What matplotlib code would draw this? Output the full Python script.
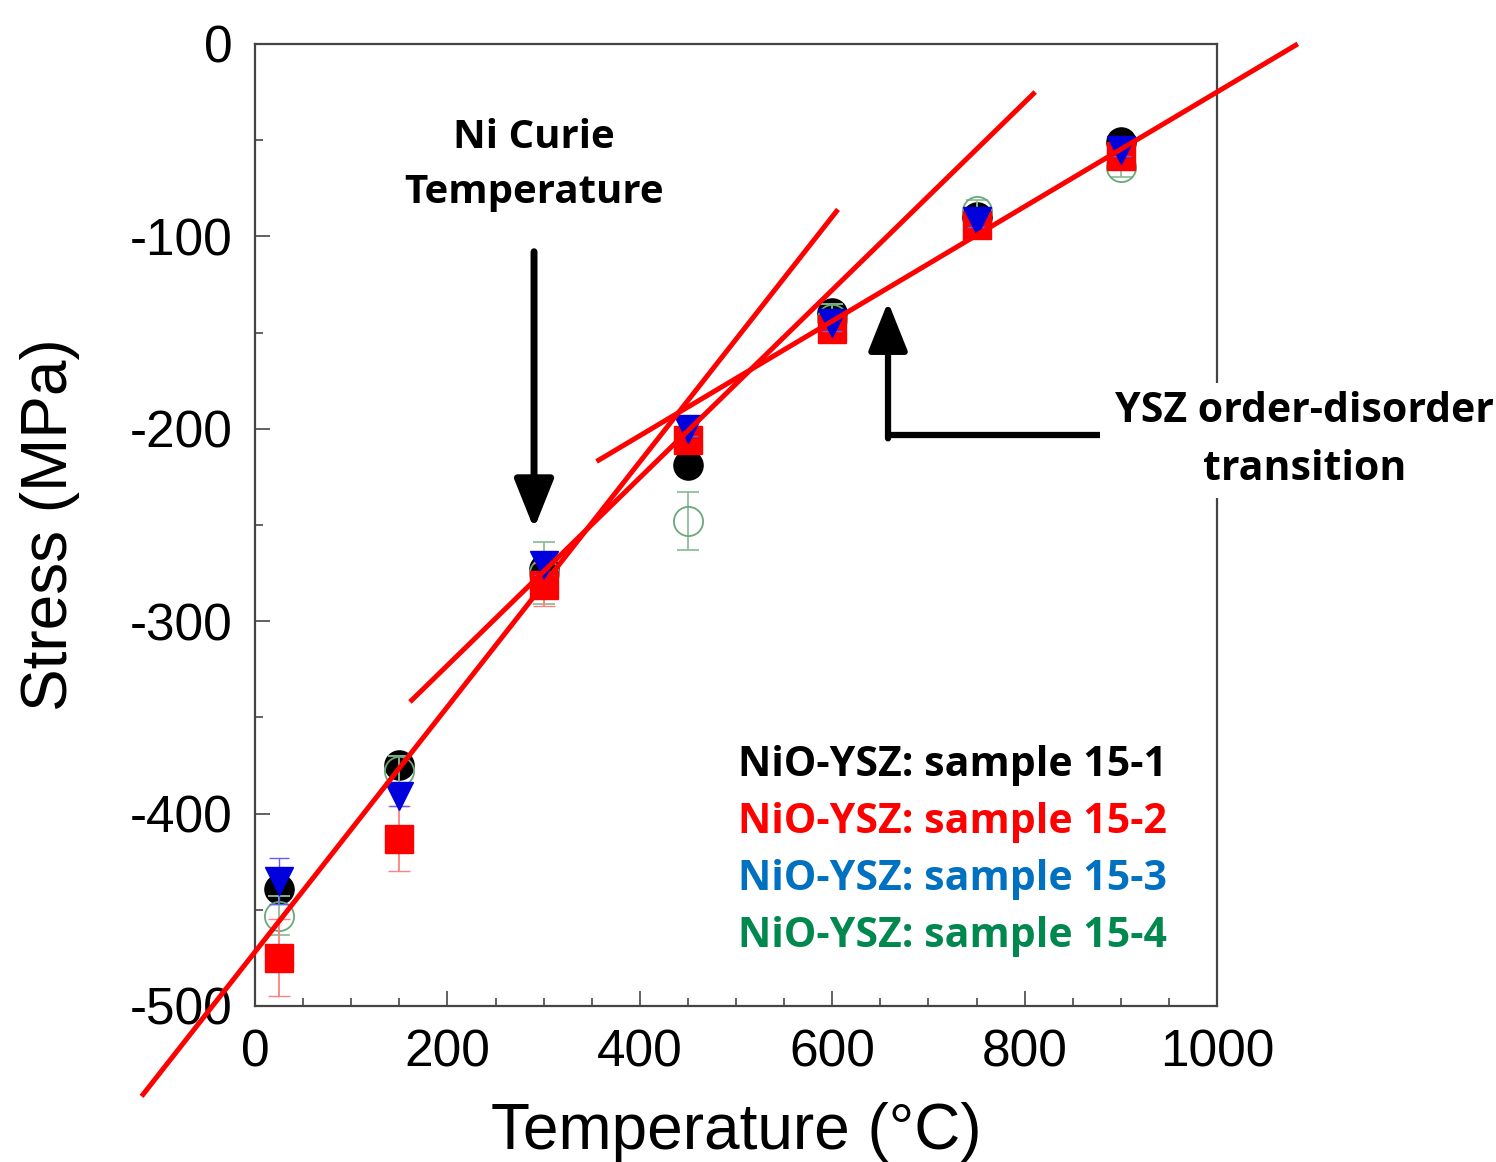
import matplotlib.pyplot as plt

plt.rcParams['axes.unicode_minus'] = False
plt.rcParams['font.family'] = ['Liberation Sans', 'DejaVu Sans']

# temperatures (°C) and stresses (MPa) for the four samples
temps = [25, 150, 300, 450, 600, 750, 900]
s151 = [-439, -375, -273, -219, -140, -90, -51]
s152 = [-475, -413, -281, -206, -148, -94, -58]
s153 = [-435, -391, -271, -200, -145, -92, -55]
s154 = [-453, -378, -275, -248, -143, -87, -64]
e151 = [8, 5, 5, 4, 3, 3, 4]
e152 = [20, 17, 11, 5, 5, 5, 5]
e153 = [12, 5, 5, 4, 4, 3, 3]
e154 = [10, 8, 16, 15, 8, 6, 5]

# hand-drawn fit lines (x0, y0, x1, y1)
fit_lines = [
    (-118, -547, 606, -86),
    (161, -342, 811, -25),
    (355, -217, 1084, 0),
]

legend_labels = ["NiO-YSZ: sample 15-1", "NiO-YSZ: sample 15-2",
                 "NiO-YSZ: sample 15-3", "NiO-YSZ: sample 15-4"]
legend_colors = ["black", "#ff0000", "#0070c0", "#00884f"]

fig = plt.figure(figsize=(14.96, 11.62), dpi=100)
ax = fig.add_axes([0.1705, 0.1343, 0.643, 0.8279])

ms = 21
ax.errorbar(temps, s151, yerr=e151, fmt='o', color='black', ms=ms,
            ecolor='#444444', elinewidth=1, capsize=6, zorder=3)
ax.errorbar(temps, s154, yerr=e154, fmt='o', mfc='none', mec='#6aa87a', mew=1.3,
            ms=ms, ecolor='#8fbf9a', elinewidth=1.3, capsize=8, zorder=4)
ax.errorbar(temps, s152, yerr=e152, fmt='s', color='#ff0000', ms=ms - 1,
            ecolor='#ff8080', elinewidth=1.3, capsize=8, zorder=5)
ax.errorbar(temps, s153, yerr=e153, fmt='v', color='#0000dd', ms=ms - 1,
            ecolor='#6060ff', elinewidth=1, capsize=7, zorder=6)

for x0, y0, x1, y1 in fit_lines:
    ax.plot([x0, x1], [y0, y1], color='#ff0000', lw=3.6, clip_on=False, zorder=7,
            solid_capstyle='butt')

ax.set_xlim(0, 1000)
ax.set_ylim(-500, 0)
ax.set_xticks([0, 200, 400, 600, 800, 1000])
ax.set_xticks(range(50, 1000, 50), minor=True)
ax.set_yticks([-500, -400, -300, -200, -100, 0])
ax.set_yticks(range(-450, 0, 100), minor=True)
ax.tick_params(which='both', direction='in', color='#555555', width=1.3,
               labelsize=37, pad=16)
ax.tick_params(which='major', length=11)
ax.tick_params(which='minor', length=6)
for sp in ax.spines.values():
    sp.set_color('#444444')
    sp.set_linewidth(1.6)

ax.set_xlabel('Temperature (°C)', fontsize=46, labelpad=18)
ax.set_ylabel('Stress (MPa)', fontsize=46, labelpad=36)

bold = dict(family=['Open Sans', 'DejaVu Sans'], weight='bold', fontsize=29.5)
head = '-|>,head_length=1.0,head_width=0.4'

# Ni Curie annotation
ax.text(290, -63, 'Ni Curie\nTemperature', ha='center', va='center',
        linespacing=1.55, fontfamily=bold['family'], fontweight='bold',
        fontsize=29)
ax.annotate('', xy=(290, -252), xytext=(290, -108),
            arrowprops=dict(arrowstyle=head, mutation_scale=30,
                            color='black', lw=5, shrinkA=0, shrinkB=0))

# YSZ annotation
ax.plot([878, 658], [-203, -203], color='black', lw=4.5, clip_on=False,
        solid_capstyle='butt', zorder=8)
ax.annotate('', xy=(658, -134), xytext=(658, -205),
            arrowprops=dict(arrowstyle=head, mutation_scale=30,
                            color='black', lw=4.5, shrinkA=0, shrinkB=0),
            zorder=8)
ax.text(1091, -206, 'YSZ order-disorder\ntransition', ha='center', va='center',
        linespacing=1.55, clip_on=False, zorder=9,
        bbox=dict(facecolor='white', edgecolor='none', pad=6), **bold)

# sample labels
for i, (lab, col) in enumerate(zip(legend_labels, legend_colors)):
    ax.text(502, -375 - 29.6 * i, lab, color=col, ha='left', va='center', **bold)

plt.savefig('out.png', dpi=100)
